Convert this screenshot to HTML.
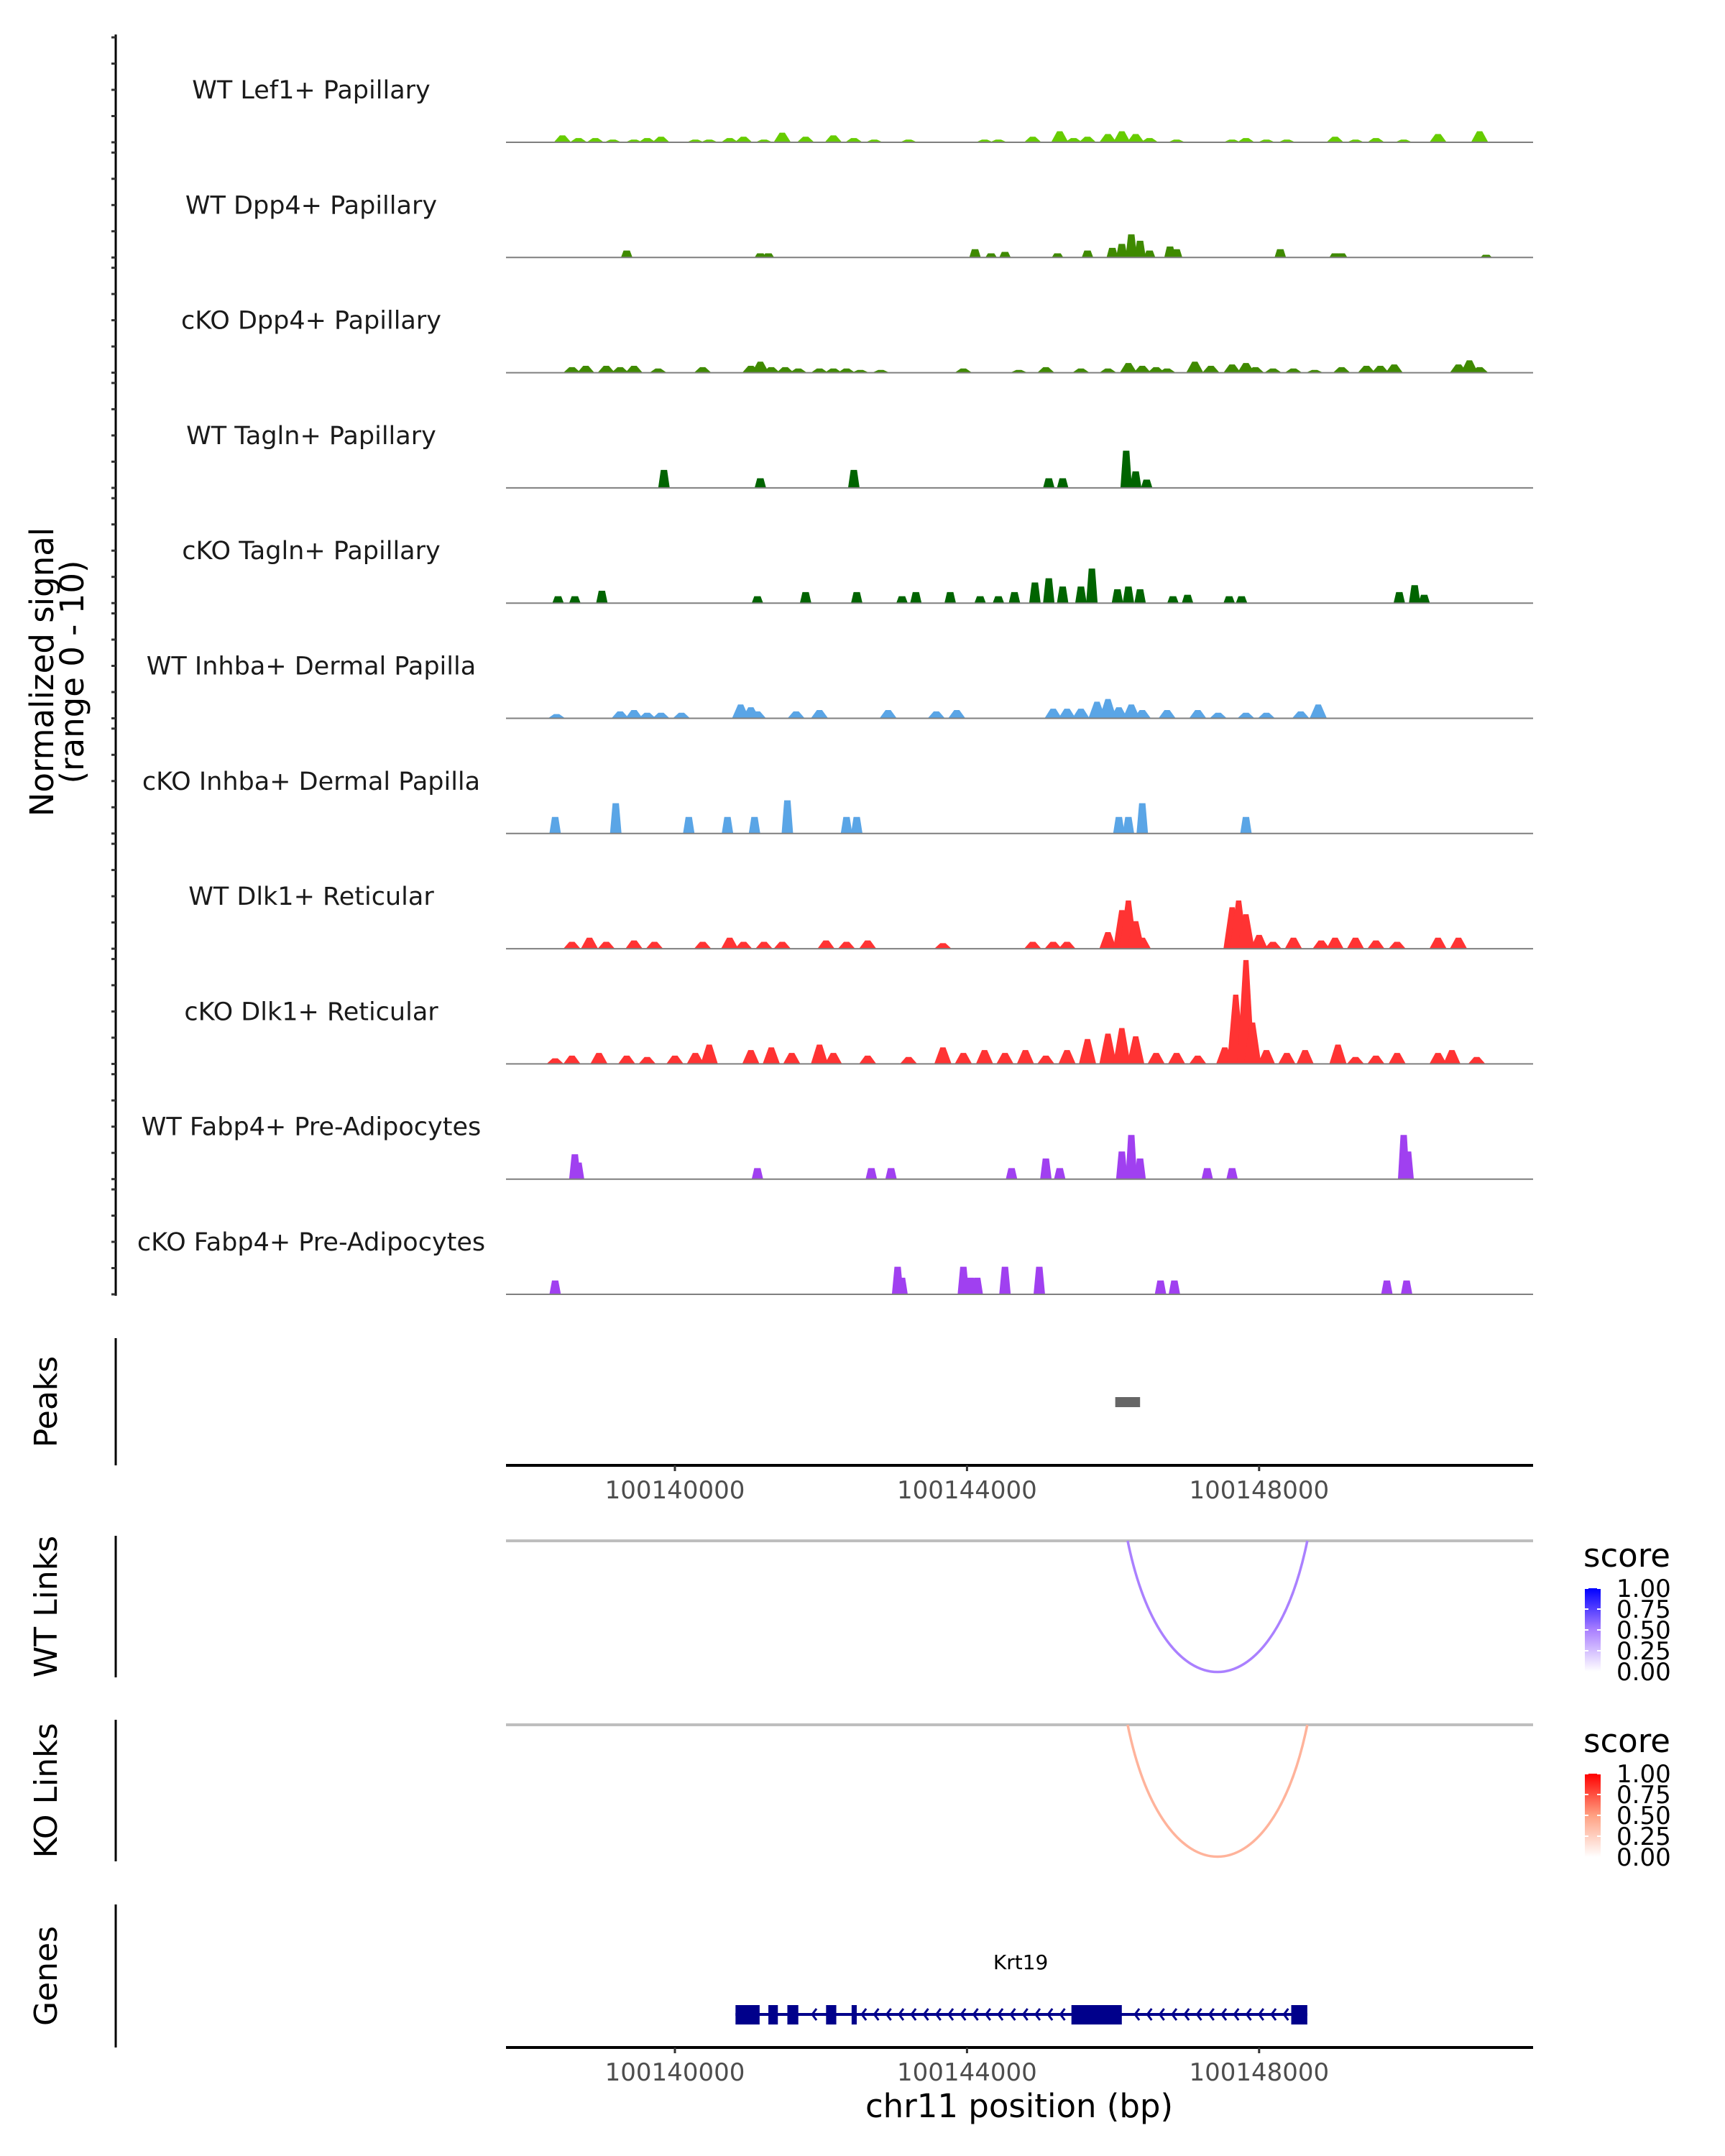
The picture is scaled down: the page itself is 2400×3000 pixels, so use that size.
<!DOCTYPE html>
<html><head><meta charset="utf-8"><style>
html,body{margin:0;padding:0;background:#fff}
svg{display:block;font-family:"DejaVu Sans","Liberation Sans",sans-serif}
</style></head><body>
<svg id="chart" width="2400" height="3000" viewBox="0 0 2400 3000" xmlns="http://www.w3.org/2000/svg">
<g id="tracks"></g>
<g id="lower"></g>
</svg>
<script>
// positions in kb relative to chr11:100,140,000 ; values normalized 0-10
const trackNames = ["WT Lef1+ Papillary","WT Dpp4+ Papillary","cKO Dpp4+ Papillary","WT Tagln+ Papillary","cKO Tagln+ Papillary","WT Inhba+ Dermal Papilla","cKO Inhba+ Dermal Papilla","WT Dlk1+ Reticular","cKO Dlk1+ Reticular","WT Fabp4+ Pre-Adipocytes","cKO Fabp4+ Pre-Adipocytes"];
const trackColors = ["#66cc00","#3f8a00","#3f8a00","#006400","#006400","#5aa5e6","#5aa5e6","#ff3333","#ff3333","#a040f0","#a040f0"];
const lef1Pos = [-1.54,-1.32,-1.09,-0.85,-0.56,-0.38,-0.19,0.28,0.47,0.75,0.94,1.22,1.47,1.79,2.17,2.45,2.73,3.20,4.24,4.43,4.90,5.27,5.46,5.65,5.93,6.12,6.31,6.50,6.87,7.63,7.82,8.10,8.38,9.04,9.32,9.60,9.98,10.45,11.02];
const lef1Val = [0.66,0.4,0.4,0.26,0.26,0.4,0.53,0.26,0.26,0.4,0.53,0.26,0.92,0.53,0.66,0.4,0.26,0.26,0.26,0.26,0.53,1.05,0.4,0.53,0.79,1.05,0.79,0.4,0.26,0.26,0.4,0.26,0.26,0.53,0.26,0.4,0.26,0.79,1.05];
const wtDpp4Pos = [-0.66,1.17,1.28,4.11,4.33,4.52,5.24,5.65,5.99,6.12,6.25,6.37,6.50,6.78,6.87,8.29,9.04,9.13,11.11];
const wtDpp4Val = [0.66,0.4,0.4,0.79,0.4,0.53,0.4,0.66,0.92,1.3,2.2,1.6,0.66,1.05,0.79,0.79,0.4,0.4,0.26];
const koDpp4Pos = [-1.41,-1.22,-0.94,-0.75,-0.56,-0.23,0.38,1.04,1.17,1.32,1.51,1.69,1.98,2.17,2.35,2.54,2.82,3.95,4.71,5.08,5.56,5.93,6.21,6.40,6.59,6.74,7.12,7.34,7.63,7.82,7.95,8.19,8.47,8.76,9.13,9.47,9.66,9.85,10.73,10.88,11.02];
const koDpp4Val = [0.53,0.66,0.66,0.53,0.66,0.4,0.53,0.66,1.05,0.53,0.53,0.4,0.4,0.4,0.4,0.26,0.26,0.4,0.26,0.53,0.4,0.4,0.92,0.66,0.53,0.4,1.05,0.66,0.79,0.92,0.53,0.4,0.4,0.26,0.53,0.66,0.66,0.79,0.79,1.18,0.53];
const wtTaglnPos = [-0.15,1.17,2.45,5.12,5.31,6.18,6.31,6.46];
const wtTaglnVal = [1.71,0.92,1.71,0.92,0.92,3.55,1.58,0.79];
const koTaglnPos = [-1.60,-1.37,-1.00,1.13,1.79,2.49,3.11,3.30,3.77,4.18,4.43,4.65,4.93,5.12,5.31,5.56,5.71,6.06,6.21,6.37,6.82,7.02,7.59,7.76,9.92,10.13,10.26];
const koTaglnVal = [0.66,0.66,1.18,0.66,1.05,1.05,0.66,1.05,1.05,0.66,0.66,1.05,1.97,2.37,1.58,1.58,3.29,1.32,1.58,1.32,0.66,0.79,0.66,0.66,1.05,1.71,0.79];
const wtInhbaPos = [-1.62,-0.75,-0.56,-0.38,-0.19,0.09,0.90,1.04,1.13,1.66,1.98,2.92,3.58,3.86,5.18,5.37,5.56,5.78,5.93,6.08,6.25,6.40,6.74,7.16,7.44,7.82,8.10,8.57,8.81];
const wtInhbaVal = [0.4,0.66,0.79,0.53,0.53,0.53,1.32,1.05,0.66,0.66,0.79,0.79,0.66,0.79,0.92,0.92,0.92,1.58,1.84,1.05,1.32,0.79,0.79,0.79,0.53,0.53,0.53,0.66,1.32];
const koInhbaPos = [-1.64,-0.81,0.19,0.72,1.09,1.54,2.35,2.49,6.08,6.21,6.40,7.82];
const koInhbaVal = [1.58,2.89,1.58,1.58,1.58,3.16,1.58,1.58,1.58,1.58,2.89,1.58];
const wtDlk1Pos = [-1.41,-1.17,-0.94,-0.56,-0.28,0.38,0.75,0.94,1.22,1.47,2.07,2.35,2.64,3.67,4.90,5.18,5.37,5.93,6.12,6.21,6.31,6.40,7.63,7.72,7.82,8.00,8.19,8.47,8.85,9.04,9.32,9.60,9.89,10.45,10.73];
const wtDlk1Val = [0.66,1.05,0.66,0.79,0.66,0.66,1.05,0.66,0.66,0.66,0.79,0.66,0.79,0.53,0.66,0.66,0.66,1.58,3.68,4.6,2.63,1.05,3.95,4.6,3.29,1.32,0.66,1.05,0.79,1.05,1.05,0.79,0.66,1.05,1.05];
const koDlk1Pos = [-1.64,-1.41,-1.04,-0.66,-0.38,0,0.28,0.47,1.04,1.32,1.60,1.98,2.17,2.64,3.20,3.67,3.95,4.24,4.52,4.80,5.08,5.37,5.65,5.93,6.12,6.31,6.59,6.87,7.16,7.53,7.68,7.82,7.91,8.10,8.38,8.63,9.08,9.32,9.60,9.89,10.45,10.64,10.98];
const koDlk1Val = [0.53,0.79,1.05,0.79,0.66,0.79,1.05,1.84,1.32,1.58,1.05,1.84,1.05,0.79,0.66,1.58,1.05,1.32,1.05,1.32,0.79,1.32,2.37,2.89,3.42,2.63,1.05,1.05,0.79,1.58,6.6,9.9,3.95,1.32,1.05,1.32,1.84,0.66,0.79,1.05,1.05,1.32,0.66];
const wtFabp4Pos = [-1.37,-1.32,1.13,2.69,2.96,4.61,5.08,5.27,6.12,6.25,6.37,7.29,7.63,9.98,10.04];
const wtFabp4Val = [2.37,1.58,1.05,1.05,1.05,1.05,1.97,1.05,2.63,4.21,1.97,1.05,1.05,4.21,2.63];
const koFabp4Pos = [-1.64,3.05,3.11,3.95,4.05,4.14,4.52,4.99,6.65,6.84,9.75,10.02];
const koFabp4Val = [1.32,2.63,1.58,2.63,1.58,1.58,2.63,2.63,1.32,1.32,1.32,1.32];
const trackPos = [lef1Pos,wtDpp4Pos,koDpp4Pos,wtTaglnPos,koTaglnPos,wtInhbaPos,koInhbaPos,wtDlk1Pos,koDlk1Pos,wtFabp4Pos,koFabp4Pos];
const trackVal = [lef1Val,wtDpp4Val,koDpp4Val,wtTaglnVal,koTaglnVal,wtInhbaVal,koInhbaVal,wtDlk1Val,koDlk1Val,wtFabp4Val,koFabp4Val];
const xTickKb = [0,4,8];
const xTickLabels = ["100140000","100144000","100148000"];
const peakStart = [6.03];
const peakEnd = [6.37];
const wtLinkStart = [6.20], wtLinkEnd = [8.66], wtLinkScore = [0.5];
const koLinkStart = [6.20], koLinkEnd = [8.66], koLinkScore = [0.4];
const geneStart = 0.83, geneEnd = 8.66;
const exonStart = [0.83,1.28,1.54,2.07,2.42,5.43,8.44];
const exonEnd = [1.16,1.41,1.69,2.21,2.49,6.12,8.66];
const legendTicks = ["1.00","0.75","0.50","0.25","0.00"];

const NS='http://www.w3.org/2000/svg';
const X0=704, X1=2133, kbPx=101.6, kb0X=939;
const sx = kb => kb0X + kb*kbPx;
const base0 = 198, gap = 160.3, yRange = 146;
const sy = (b,v) => b - v/10*yRange;
function el(tag, attrs, parent, text){const e=document.createElementNS(NS,tag);for(const k in attrs)e.setAttribute(k,attrs[k]);if(text!==undefined)e.textContent=text;parent.appendChild(e);return e;}
const T=document.getElementById('tracks'), L=document.getElementById('lower');
const blocky=[false,true,false,true,true,false,true,false,false,true,true];

let ax=el('line',{x1:161,y1:48,x2:161,y2:1803,stroke:'#000','stroke-width':3},T);


for(let i=0;i<11;i++){
  const b=base0+gap*i;
  for(let k=0;k<=4;k++){
    let t=el('line',{x1:155,x2:161,y1:b-k*yRange/4,y2:b-k*yRange/4,stroke:'#333','stroke-width':3},T);
    
    
  }
}
let yt=el('text',{transform:'translate(80,935) rotate(-90)','text-anchor':'middle','font-size':45,fill:'#000'},T);


el('tspan',{x:0,dy:-6},yt,'Normalized signal');
el('tspan',{x:0,dy:42},yt,'(range 0 - 10)');

for(let i=0;i<11;i++){
  const b=base0+gap*i, g=el('g',{},T);
  
  
  let lab=el('text',{x:433,y:b-61,'text-anchor':'middle','font-size':35,fill:'#1a1a1a'},g,trackNames[i]);
  
  
  const pos=trackPos[i], val=trackVal[i];
  for(let j=0;j<pos.length;j++){
    const c=sx(pos[j]), top=sy(b,val[j]);
    const w=blocky[i]?8:12, f=blocky[i]?0.55:0.3;
    let p=el('polygon',{points:`${c-w},${b} ${c-w*f},${top} ${c+w*f},${top} ${c+w},${b}`,fill:trackColors[i]},g);
    
    
  }
  let bl=el('line',{x1:X0,x2:X1,y1:b,y2:b,stroke:'#7f7f7f','stroke-width':2},g);
  
  
}

function vAxis(y1,y2,title,name){
  let a=el('line',{x1:161,x2:161,y1:y1,y2:y2,stroke:'#000','stroke-width':3},L);
  
  
  let t=el('text',{transform:`translate(79,${(y1+y2)/2}) rotate(-90)`,'text-anchor':'middle','font-size':44,fill:'#000'},L,title);
  
  
}
function xAxis(y,name){
  let a=el('line',{x1:X0,x2:X1,y1:y,y2:y,stroke:'#000','stroke-width':4},L);
  
  
  for(let k=0;k<xTickKb.length;k++){
    const x=sx(xTickKb[k]);
    let t=el('line',{x1:x,x2:x,y1:y,y2:y+8,stroke:'#333','stroke-width':3},L);
    
    
    let tl=el('text',{x:x,y:y+46,'text-anchor':'middle','font-size':34,fill:'#4d4d4d'},L,xTickLabels[k]);
    
    
  }
}
vAxis(1862,2039,'Peaks','peaks');
for(let j=0;j<peakStart.length;j++){
  let r=el('rect',{x:sx(peakStart[j]),y:1944,width:sx(peakEnd[j])-sx(peakStart[j]),height:14,fill:'#666'},L);
  
  
}
xAxis(2039,'peaks-x-axis');

function lerp(a,b,t){return a.map((v,i)=>Math.round(v+(b[i]-v)*t));}
function scoreColor(stops,s){
  if(s<=0.5) return 'rgb('+lerp(stops[0],stops[1],s/0.5).join(',')+')';
  return 'rgb('+lerp(stops[1],stops[2],(s-0.5)/0.5).join(',')+')';
}
function links(lineY,bottom,st,en,sc,stops,title,name,legY,gid){
  vAxis(lineY-7,lineY+190,title,name);
  let gl=el('line',{x1:X0,x2:X1,y1:lineY,y2:lineY,stroke:'#bebebe','stroke-width':4},L);
  
  
  for(let j=0;j<st.length;j++){
    const a=sx(st[j]), b=sx(en[j]), depth=bottom-lineY;
    let p=el('path',{d:`M${a},${lineY} C${a+(b-a)*0.2},${lineY+depth*1.33} ${b-(b-a)*0.2},${lineY+depth*1.33} ${b},${lineY}`,fill:'none',stroke:scoreColor(stops,sc[j]),'stroke-width':3.5},L);
    
    
  }
  const lg=el('g',{},L);
  
  
  el('text',{x:2203,y:legY,'font-size':45,fill:'#000'},lg,'score');
  const defs=el('defs',{},lg);
  const gr=el('linearGradient',{id:gid,x1:0,y1:1,x2:0,y2:0},defs);
  el('stop',{offset:0,'stop-color':'rgb('+stops[0].join(',')+')'},gr);
  el('stop',{offset:0.5,'stop-color':'rgb('+stops[1].join(',')+')'},gr);
  el('stop',{offset:1,'stop-color':'rgb('+stops[2].join(',')+')'},gr);
  const by=legY+30;
  el('rect',{x:2205,y:by,width:22,height:116,fill:`url(#${gid})`},lg);
  for(let k=0;k<legendTicks.length;k++){
    const y=by+k*29;
    el('line',{x1:2205,x2:2210,y1:y,y2:y,stroke:'#fff','stroke-width':2},lg);
    el('line',{x1:2222,x2:2227,y1:y,y2:y,stroke:'#fff','stroke-width':2},lg);
    el('text',{x:2249,y:y+12,'font-size':34,fill:'#000'},lg,legendTicks[k]);
  }
}
links(2144,2327,wtLinkStart,wtLinkEnd,wtLinkScore,[[255,255,255],[170,128,255],[0,0,255]],'WT Links','wt-links',2180,'gw');
links(2400,2584,koLinkStart,koLinkEnd,koLinkScore,[[255,255,255],[255,160,130],[255,0,0]],'KO Links','ko-links',2438,'gk');

vAxis(2650,2849,'Genes','genes');
const gg=el('g',{},L);


el('text',{x:sx((geneStart+geneEnd)/2)-1,y:2740,'text-anchor':'middle','font-size':28,fill:'#000'},gg,'Krt19');
el('line',{x1:sx(geneStart),x2:sx(geneEnd),y1:2803,y2:2803,stroke:'#00008b','stroke-width':4},gg);
for(let k=0;k<exonStart.length;k++){
  let e=el('rect',{x:sx(exonStart[k]),y:2790,width:sx(exonEnd[k])-sx(exonStart[k]),height:27,fill:'#00008b'},gg);
  
  
}
for(let kb=geneStart+0.2;kb<geneEnd-0.1;kb+=0.17){
  const x=sx(kb);
  let inEx=false;for(let k=0;k<exonStart.length;k++)if(kb>=exonStart[k]-0.05&&kb<=exonEnd[k]+0.05)inEx=true;
  if(inEx)continue;
  el('polyline',{points:`${x+6},${2795} ${x},${2803} ${x+6},${2811}`,fill:'none',stroke:'#00008b','stroke-width':3},gg);
}
xAxis(2849,'genes-x-axis');
let xt=el('text',{x:1418,y:2946,'text-anchor':'middle','font-size':45,fill:'#000'},L,'chr11 position (bp)');


</script>
</body></html>
